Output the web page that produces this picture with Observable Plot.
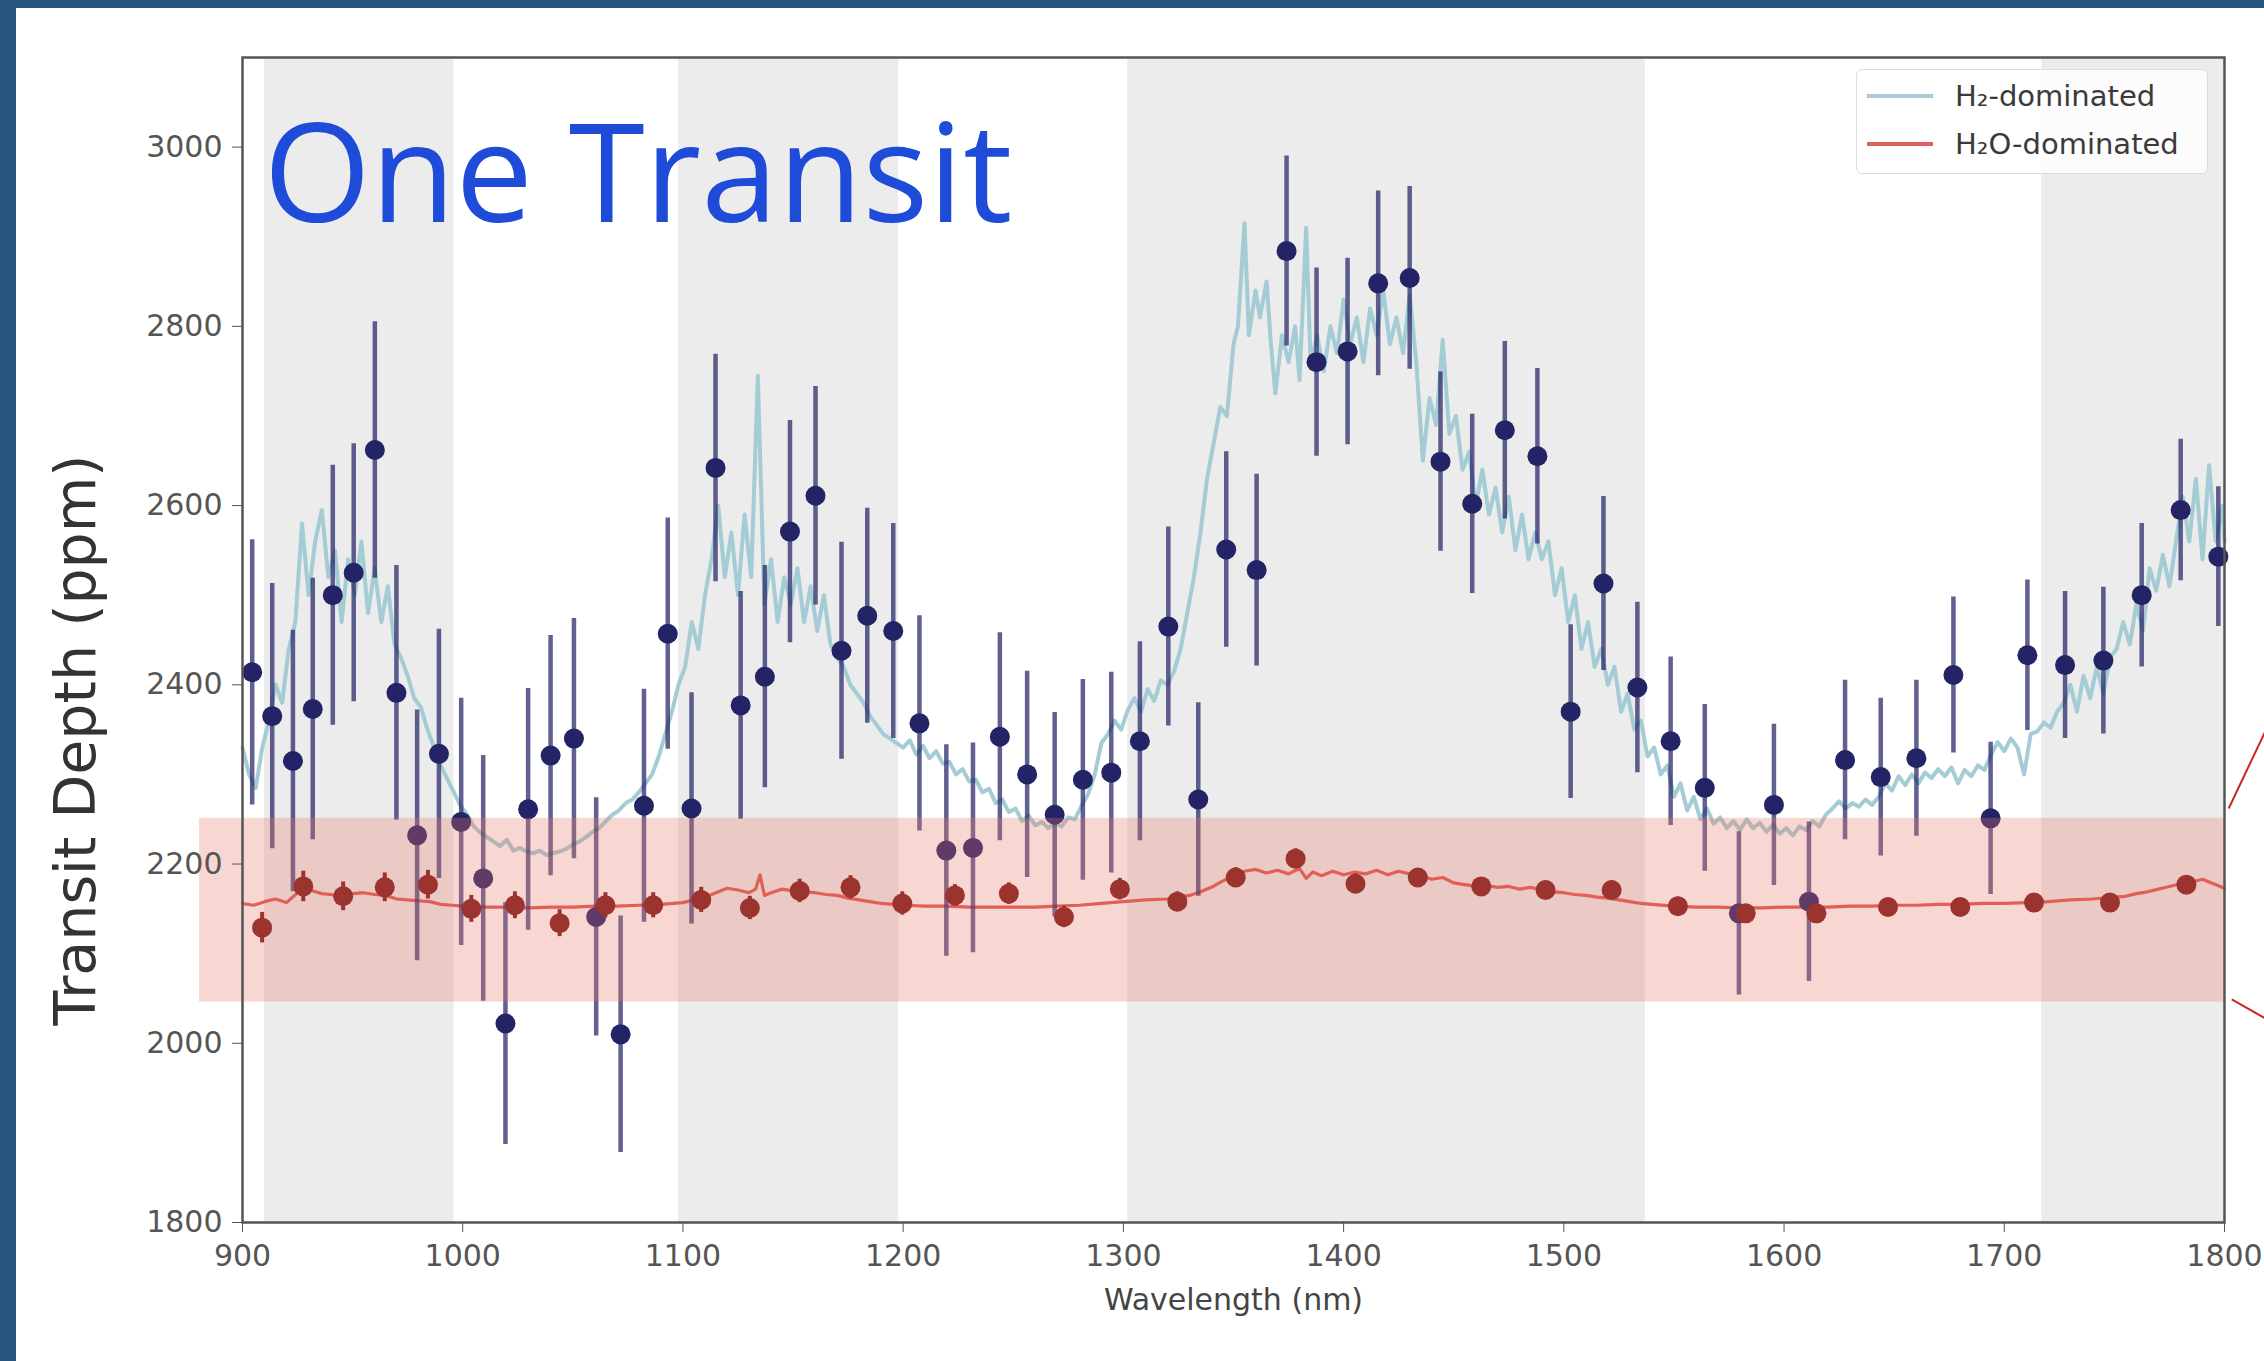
<!DOCTYPE html>
<html>
<head>
<meta charset="utf-8">
<script src="https://cdn.jsdelivr.net/npm/d3@7"></script>
<script src="https://cdn.jsdelivr.net/npm/@observablehq/plot@0.6"></script>
<style>
  html, body { margin: 0; padding: 0; background: #fff; width: 2264px; height: 1361px; overflow: hidden; }
  #chart { position: absolute; left: 0; top: 0; }
  .border-top { position: absolute; left: 0; top: 0; width: 2264px; height: 8px; background: #27577f; z-index: 5; }
  .border-left { position: absolute; left: 0; top: 0; width: 16px; height: 1361px; background: #27577f; z-index: 5; }
  .legend { position: absolute; left: 1856px; top: 69px; width: 350px; height: 103px; border: 1.5px solid #dcdcdc; border-radius: 6px; background: rgba(255,255,255,0.85); font-family: "DejaVu Sans", sans-serif; font-size: 29px; color: #3a3a3a; z-index: 4; }
  .legend .row { position: absolute; left: 0; height: 40px; display: flex; align-items: center; }
  .legend .sw { width: 66px; height: 4px; margin-left: 10px; margin-right: 22px; }
</style>
</head>
<body>
<div class="border-top"></div>
<div class="border-left"></div>
<div id="chart"></div>
<div class="legend">
  <div class="row" style="top:6px"><div class="sw" style="background:#a3ccd4"></div><span>H₂-dominated</span></div>
  <div class="row" style="top:54px"><div class="sw" style="background:#e0605a"></div><span>H₂O-dominated</span></div>
</div>
<script>
// ---- Observed data: H2-dominated (blue points) ----
const blueWl = [904.4, 913.5, 922.9, 931.9, 941.0, 950.5, 960.1, 969.9, 979.3, 989.2, 999.3, 1009.3, 1019.4, 1029.7, 1039.9, 1050.5, 1060.6, 1071.7, 1082.3, 1093.1, 1103.9, 1114.8, 1126.2, 1137.2, 1148.6, 1160.2, 1172.0, 1183.7, 1195.5, 1207.4, 1219.6, 1231.7, 1243.9, 1256.3, 1268.8, 1281.6, 1294.5, 1307.5, 1320.4, 1334.0, 1346.7, 1360.5, 1374.1, 1387.7, 1401.8, 1415.7, 1430.0, 1444.0, 1458.4, 1473.2, 1488.0, 1503.1, 1518.0, 1533.4, 1548.5, 1564.0, 1579.5, 1595.4, 1611.3, 1627.7, 1643.9, 1660.1, 1676.9, 1693.8, 1710.5, 1727.6, 1745.0, 1762.4, 1780.1, 1797.2];
const blueDepth = [2414, 2365, 2315, 2373, 2500, 2525, 2662, 2391, 2232, 2323, 2247, 2184, 2022, 2261, 2321, 2340, 2141, 2010, 2265, 2457, 2262, 2642, 2377, 2409, 2571, 2611, 2438, 2477, 2460, 2357, 2215, 2218, 2342, 2300, 2255, 2294, 2302, 2337, 2465, 2272, 2551, 2528, 2884, 2760, 2772, 2848, 2854, 2649, 2602, 2684, 2655, 2370, 2513, 2397, 2337, 2285, 2145, 2266, 2158, 2316, 2297, 2318, 2411, 2251, 2433, 2422, 2427, 2500, 2595, 2543];
const blueErr = [148, 148, 146, 146, 145, 144, 143, 142, 140, 139, 138, 137, 135, 135, 134, 134, 133, 132, 130, 129, 129, 127, 127, 124, 124, 122, 121, 120, 120, 120, 118, 117, 116, 115, 114, 112, 112, 111, 111, 108, 109, 107, 106, 105, 104, 103, 102, 100, 100, 99, 98, 97, 97, 95, 94, 93, 91, 90, 89, 89, 88, 87, 87, 85, 84, 82, 82, 80, 79, 78];

// ---- Observed data: H2O-dominated (red points) ----
const redWl = [908.9, 927.6, 945.7, 964.6, 984.2, 1003.9, 1023.7, 1044.0, 1064.8, 1086.5, 1108.3, 1130.4, 1153.0, 1176.1, 1199.6, 1223.5, 1248.0, 1273.0, 1298.4, 1324.5, 1351.0, 1378.2, 1405.4, 1433.7, 1462.5, 1491.7, 1521.7, 1551.8, 1582.6, 1614.7, 1647.2, 1680.0, 1713.5, 1748.0, 1782.7];
const redDepth = [2129, 2175, 2164, 2174, 2177, 2150, 2154, 2134, 2154, 2154, 2160, 2151, 2170, 2174, 2156, 2165, 2167, 2141, 2172, 2158, 2185, 2206, 2178, 2185, 2175, 2171, 2171, 2153, 2145, 2145, 2152, 2152, 2157, 2157, 2177];
const redErr = [17, 17, 16, 16, 16, 15, 15, 15, 14, 14, 14, 13, 13, 13, 13, 12, 12, 12, 12, 11, 11, 11, 11, 10, 10, 10, 10, 10, 9, 9, 9, 9, 9, 9, 9];

// ---- Model spectrum: H2-dominated ----
const h2ModelWl = [900,903,906,909,912,915,918,921,924,927,930,933,936,939,942,945,948,951,954,957,960,963,966,969,972,975,978,981,984,987,990,993,996,999,1002,1005,1008,1011,1014,1017,1020,1023,1026,1029,1032,1035,1038,1041,1044,1047,1050,1053,1056,1059,1062,1065,1068,1071,1074,1077,1080,1083,1086,1089,1092,1095,1098,1101,1104,1107,1110,1113,1116,1119,1122,1125,1128,1131,1134,1137,1140,1143,1146,1149,1152,1155,1158,1161,1164,1167,1170,1173,1176,1179,1182,1185,1188,1191,1194,1197,1200,1203,1206,1209,1212,1215,1218,1221,1224,1227,1230,1233,1236,1239,1242,1245,1248,1251,1254,1257,1260,1263,1266,1269,1272,1275,1278,1281,1284,1287,1290,1293,1296,1299,1302,1305,1308,1311,1314,1317,1320,1323,1326,1329,1332,1335,1338,1341,1344,1347,1350,1352,1355,1357,1360,1362,1365,1367,1369,1372,1375,1378,1380,1383,1385,1388,1391,1394,1397,1400,1403,1406,1409,1412,1415,1418,1421,1424,1427,1430,1433,1436,1439,1442,1445,1448,1451,1454,1457,1460,1463,1466,1469,1472,1475,1478,1481,1484,1487,1490,1493,1496,1499,1502,1505,1508,1511,1514,1517,1520,1523,1526,1529,1532,1535,1538,1541,1544,1547,1550,1553,1556,1559,1562,1565,1568,1571,1574,1577,1580,1583,1586,1589,1592,1595,1598,1601,1604,1607,1610,1613,1616,1619,1622,1625,1628,1631,1634,1637,1640,1643,1646,1649,1652,1655,1658,1661,1664,1667,1670,1673,1676,1679,1682,1685,1688,1691,1694,1697,1700,1703,1706,1709,1712,1715,1718,1721,1724,1727,1730,1733,1736,1739,1742,1745,1748,1751,1754,1757,1760,1763,1766,1769,1772,1775,1778,1781,1784,1787,1790,1793,1796,1799,1800];
const h2ModelDepth = [2330,2300,2285,2330,2360,2400,2380,2440,2470,2580,2500,2560,2595,2520,2550,2470,2540,2500,2560,2480,2530,2470,2510,2445,2430,2410,2385,2375,2350,2330,2310,2295,2280,2265,2255,2242,2235,2230,2225,2220,2227,2215,2218,2214,2212,2215,2210,2212,2214,2217,2222,2225,2230,2236,2240,2248,2255,2260,2268,2272,2280,2290,2300,2320,2345,2370,2400,2420,2470,2440,2500,2540,2600,2520,2570,2500,2590,2520,2745,2490,2540,2470,2520,2490,2530,2470,2510,2460,2500,2445,2430,2420,2400,2390,2380,2365,2355,2345,2340,2335,2330,2338,2322,2332,2318,2326,2312,2314,2300,2306,2292,2294,2280,2284,2268,2272,2258,2262,2248,2254,2243,2247,2240,2246,2242,2252,2250,2265,2278,2300,2335,2345,2360,2350,2372,2385,2370,2395,2382,2405,2400,2415,2440,2480,2520,2570,2630,2670,2710,2700,2780,2800,2915,2790,2840,2810,2850,2780,2725,2790,2760,2800,2740,2910,2760,2790,2750,2800,2770,2830,2780,2810,2760,2820,2790,2840,2780,2810,2770,2835,2760,2650,2720,2690,2785,2680,2700,2640,2660,2600,2640,2590,2620,2570,2610,2550,2590,2540,2570,2540,2560,2500,2530,2470,2500,2440,2470,2420,2440,2400,2420,2370,2390,2350,2360,2320,2330,2300,2310,2275,2290,2260,2275,2250,2262,2245,2252,2240,2248,2238,2250,2240,2246,2236,2244,2234,2240,2232,2242,2238,2248,2242,2255,2262,2270,2262,2268,2264,2272,2266,2275,2290,2282,2298,2288,2300,2290,2302,2296,2306,2298,2308,2290,2305,2298,2310,2305,2322,2336,2326,2340,2330,2300,2345,2348,2358,2352,2370,2380,2400,2370,2410,2385,2420,2390,2430,2440,2470,2445,2490,2460,2530,2505,2545,2510,2560,2610,2560,2630,2540,2645,2560,2600,2560];

// ---- Model spectrum: H2O-dominated ----
const h2oModelWl = [900,905,910,915,920,925,928,932,936,940,945,950,955,960,965,970,975,980,985,990,995,1000,1010,1020,1030,1040,1050,1060,1070,1080,1090,1100,1105,1110,1115,1120,1125,1130,1133,1135,1137,1140,1145,1150,1155,1160,1165,1170,1175,1180,1185,1190,1200,1210,1220,1230,1240,1250,1260,1270,1280,1290,1300,1310,1320,1330,1335,1340,1345,1350,1355,1360,1365,1370,1375,1380,1383,1386,1390,1395,1400,1405,1410,1415,1420,1425,1430,1435,1440,1445,1450,1455,1460,1465,1470,1475,1480,1485,1490,1495,1500,1505,1510,1515,1520,1525,1530,1535,1540,1550,1560,1570,1580,1590,1600,1610,1620,1630,1640,1650,1660,1670,1680,1690,1700,1710,1720,1730,1740,1750,1755,1760,1765,1770,1775,1780,1785,1790,1795,1800];
const h2oModelDepth = [2156,2154,2158,2161,2157,2168,2175,2170,2167,2166,2164,2167,2168,2166,2165,2161,2160,2159,2158,2155,2154,2153,2152,2152,2151,2152,2152,2153,2153,2154,2155,2157,2160,2163,2168,2173,2171,2168,2172,2188,2165,2168,2172,2170,2169,2168,2166,2165,2162,2160,2158,2156,2154,2153,2153,2152,2152,2152,2152,2153,2154,2156,2158,2160,2161,2165,2169,2174,2181,2187,2192,2194,2190,2193,2189,2195,2184,2191,2187,2192,2188,2191,2189,2193,2188,2192,2189,2187,2183,2185,2179,2177,2175,2176,2174,2175,2172,2174,2171,2169,2168,2166,2165,2163,2162,2160,2158,2156,2155,2153,2152,2152,2151,2151,2152,2152,2152,2153,2153,2154,2154,2155,2155,2156,2156,2157,2158,2160,2161,2163,2164,2167,2169,2172,2175,2178,2180,2183,2178,2173];

// ---- Shaded wavelength bands and highlighted range ----
const bandStart = [910, 1098, 1302, 1717];
const bandEnd = [996, 1198, 1537, 1800];
const highlightWl = [880.5, 1800];
const highlightDepth = [2046, 2251];
// callout connectors toward the (cropped) zoom panel
const calloutFrom = [[1801.9, 2262], [1803.3, 2049]];
const calloutTo = [[1818.3, 2347], [1818.3, 2028]];

const xTicks = [900, 1000, 1100, 1200, 1300, 1400, 1500, 1600, 1700, 1800];
const yTicks = [1800, 2000, 2200, 2400, 2600, 2800, 3000];

const blue = blueWl.map((x, i) => ({x, y: blueDepth[i], e: blueErr[i]}));
const red = redWl.map((x, i) => ({x, y: redDepth[i], e: redErr[i]}));
const h2Model = h2ModelWl.map((x, i) => ({x, y: h2ModelDepth[i]}));
const h2oModel = h2oModelWl.map((x, i) => ({x, y: h2oModelDepth[i]}));
const bands = bandStart.map((s, i) => ({x1: s, x2: bandEnd[i]}));
const highlight = [{x1: highlightWl[0], x2: highlightWl[1], y1: highlightDepth[0], y2: highlightDepth[1]}];
const callouts = calloutFrom.map((f, i) => ({x1: f[0], y1: f[1], x2: calloutTo[i][0], y2: calloutTo[i][1]}));

const navy = "#232366";
const darkRed = "#7a1616";

const chart = Plot.plot({
  width: 2264,
  height: 1361,
  marginLeft: 242,
  marginRight: 40,
  marginTop: 57,
  marginBottom: 139,
  x: {domain: [900, 1800]},
  y: {domain: [1800, 3100]},
  style: {fontFamily: "DejaVu Sans", background: "transparent", overflow: "visible", maxWidth: "none"},
  marks: [
    Plot.rect(bands, {x1: "x1", x2: "x2", fill: "#ececec"}),
    Plot.line(h2Model, {x: "x", y: "y", stroke: "#a3ccd4", strokeWidth: 4}),
    Plot.line(h2oModel, {x: "x", y: "y", stroke: "#e0554d", strokeWidth: 3.2}),
    Plot.ruleX(blue, {x: "x", y1: d => d.y - d.e, y2: d => d.y + d.e, stroke: navy, strokeOpacity: 0.72, strokeWidth: 4.5}),
    Plot.dot(blue, {x: "x", y: "y", r: 10, fill: navy}),
    Plot.ruleX(red, {x: "x", y1: d => d.y - d.e, y2: d => d.y + d.e, stroke: darkRed, strokeWidth: 4}),
    Plot.dot(red, {x: "x", y: "y", r: 10, fill: darkRed}),
    Plot.rect(highlight, {x1: "x1", x2: "x2", y1: "y1", y2: "y2", fill: "#e8776b", fillOpacity: 0.3}),
    Plot.link(callouts, {x1: "x1", y1: "y1", x2: "x2", y2: "y2", stroke: "#c62828", strokeWidth: 2}),
    Plot.frame({stroke: "#555", strokeWidth: 2.5}),
    Plot.axisX(xTicks, {tickSize: 10, tickPadding: 12, fontSize: 30, color: "#555", label: null, tickFormat: "d"}),
    Plot.axisY(yTicks, {tickSize: 10, tickPadding: 10, fontSize: 30, color: "#555", label: null, tickFormat: "d"}),
    Plot.text(["Transit Depth (ppm)"], {text: d => d, frameAnchor: "left", rotate: -90, dx: -166, dy: 100, fontSize: 57, fill: "#333", textAnchor: "middle", lineAnchor: "middle"}),
    Plot.text(["Wavelength (nm)"], {text: d => d, frameAnchor: "bottom", dy: 87, lineAnchor: "bottom", fontSize: 30, fill: "#444"}),
    Plot.text(["One Transit"], {text: d => d, frameAnchor: "top-left", dx: 21, dy: 164, lineAnchor: "bottom", textAnchor: "start", fontSize: 138, fontFamily: "Open Sans", fill: "#1e4bd8"})
  ]
});
document.getElementById("chart").appendChild(chart);
</script>
</body>
</html>
